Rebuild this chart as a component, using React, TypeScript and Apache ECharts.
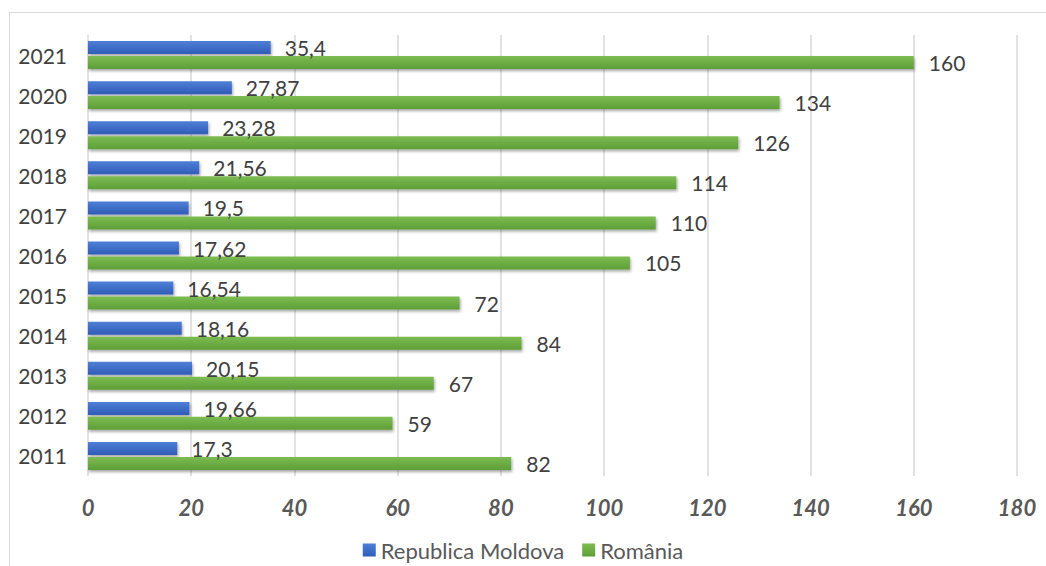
import React, { useEffect, useRef } from "react";
import * as echarts from "echarts";

const years = ["2021", "2020", "2019", "2018", "2017", "2016", "2015", "2014", "2013", "2012", "2011"];
const moldova = [35.4, 27.87, 23.28, 21.56, 19.5, 17.62, 16.54, 18.16, 20.15, 19.66, 17.3];
const romania = [160, 134, 126, 114, 110, 105, 72, 84, 67, 59, 82];
const seriesNames = ["Republica Moldova", "România"];
const xTicks = { min: 0, max: 180, interval: 20 };

const FONT = "Lato, 'Open Sans', sans-serif";

export default function App() {
  const ref = useRef<HTMLDivElement>(null);
  useEffect(() => {
    const chart = echarts.init(ref.current!, null, { renderer: "svg" });
    const fmt = (p: any) => String(p.value).replace(".", ",");
    chart.setOption({
      animation: false,
      backgroundColor: "#ffffff",
      textStyle: { fontFamily: FONT },
      graphic: [
        { type: "line", shape: { x1: 9.5, y1: 12, x2: 9.5, y2: 566 }, style: { stroke: "#d9d9d9", lineWidth: 1 } },
        { type: "line", shape: { x1: 9.5, y1: 12.5, x2: 1046, y2: 12.5 }, style: { stroke: "#d9d9d9", lineWidth: 1 } },
      ],
      grid: { left: 88, right: 29, top: 35, bottom: 90, containLabel: false },
      legend: {
        data: seriesNames,
        bottom: 0,
        left: "center",
        itemWidth: 13,
        itemHeight: 13,
        itemGap: 18,
        icon: "rect",
        textStyle: { fontFamily: FONT, fontSize: 22, color: "#595959" },
      },
      xAxis: {
        type: "value",
        min: xTicks.min,
        max: xTicks.max,
        interval: xTicks.interval,
        axisLine: { show: false },
        axisTick: { show: false },
        splitLine: { lineStyle: { color: "#d9d9d9", width: 1.5 } },
        axisLabel: {
          fontFamily: FONT,
          fontSize: 22,
          fontWeight: "bold",
          fontStyle: "italic",
          color: "#595959",
          margin: 20,
        },
      },
      yAxis: {
        type: "category",
        data: years,
        inverse: true,
        axisLine: { show: false },
        axisTick: { show: false },
        axisLabel: { fontFamily: FONT, fontSize: 21, color: "#404040", margin: 21 },
      },
      series: [
        {
          name: seriesNames[0],
          type: "bar",
          data: moldova,
          barWidth: 13,
          barGap: "15%",
          itemStyle: {
            color: new echarts.graphic.LinearGradient(0, 0, 0, 1, [
              { offset: 0, color: "#4f7fd6" },
              { offset: 1, color: "#2f5cb8" },
            ]),
            shadowBlur: 3,
            shadowColor: "rgba(0,0,0,0.35)",
            shadowOffsetY: 2,
            shadowOffsetX: 1,
          },
          label: {
            show: true,
            position: "right",
            distance: 14,
            formatter: fmt,
            fontFamily: FONT,
            fontSize: 21,
            color: "#404040",
          },
        },
        {
          name: seriesNames[1],
          type: "bar",
          data: romania,
          barWidth: 13,
          barGap: "15%",
          itemStyle: {
            color: new echarts.graphic.LinearGradient(0, 0, 0, 1, [
              { offset: 0, color: "#7cbc52" },
              { offset: 1, color: "#5e9e37" },
            ]),
            shadowBlur: 3,
            shadowColor: "rgba(0,0,0,0.35)",
            shadowOffsetY: 2,
            shadowOffsetX: 1,
          },
          label: {
            show: true,
            position: "right",
            distance: 15,
            formatter: fmt,
            fontFamily: FONT,
            fontSize: 21,
            color: "#404040",
          },
        },
      ],
    });
    return () => chart.dispose();
  }, []);
  return (
    <div
      ref={ref}
      style={{ position: "absolute", left: 0, top: 0, width: 1046, height: 566 }}
    />
  );
}
